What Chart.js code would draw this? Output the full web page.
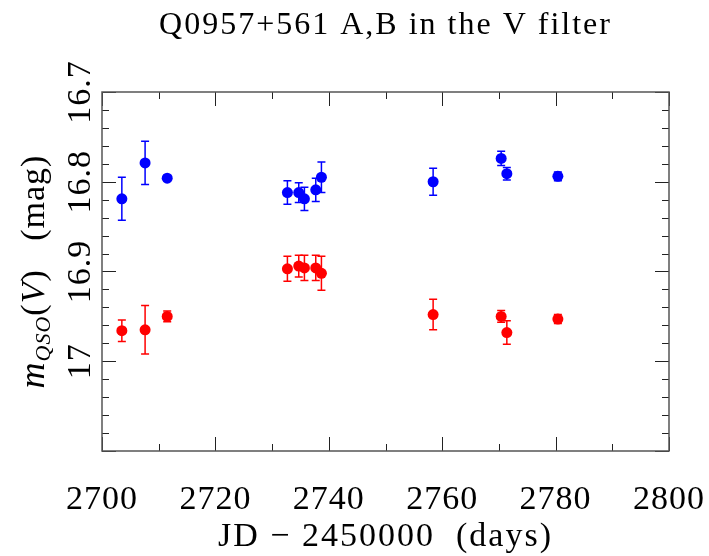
<!DOCTYPE html>
<html lang="en">
<head>
<meta charset="UTF-8">
<title>Q0957+561 A,B in the V filter</title>
<script src="https://cdn.jsdelivr.net/npm/chart.js"></script>
<style>
  body { margin: 0; background: #fff; }
  #wrap { width: 709px; height: 556px; }
</style>
</head>
<body>
<div id="wrap"><canvas id="lcChart" width="709" height="556"></canvas></div>
<script>
// Observation epochs (JD - 2450000)
const jd = [2703.5, 2707.6, 2711.5, 2732.7, 2734.7, 2735.7, 2737.7, 2738.7, 2758.4, 2770.4, 2771.4, 2780.4];

// Image A (blue) magnitudes and errors
const magA = [16.819, 16.779, 16.796, 16.812, 16.812, 16.819, 16.809, 16.795, 16.800, 16.774, 16.791, 16.794];
const errA = [0.024, 0.024, 0.003, 0.013, 0.011, 0.013, 0.013, 0.017, 0.015, 0.008, 0.007, 0.005];

// Image B (red) magnitudes and errors
const magB = [16.966, 16.965, 16.950, 16.897, 16.894, 16.896, 16.896, 16.902, 16.948, 16.950, 16.968, 16.953];
const errB = [0.012, 0.027, 0.006, 0.014, 0.012, 0.014, 0.014, 0.019, 0.017, 0.0065, 0.013, 0.005];

// axis tick labels
const xTickLabels = [2700, 2720, 2740, 2760, 2780, 2800];
const yTickLabels = ['16.7', '16.8', '16.9', '17'];

const FONT = '"Liberation Serif", "Times New Roman", serif';

function toPoints(xs, ys, es) {
  return xs.map((x, i) => ({ x: x, y: ys[i], err: es[i] }));
}

// draw the error bars under the points
const errorBars = {
  id: 'errorBars',
  beforeDatasetsDraw(chart) {
    const ctx = chart.ctx;
    const xs = chart.scales.x, ys = chart.scales.y;
    chart.data.datasets.forEach(ds => {
      ctx.save();
      ctx.strokeStyle = ds.borderColor;
      ctx.lineWidth = 1.5;
      ds.data.forEach(p => {
        const px = xs.getPixelForValue(p.x);
        const top = ys.getPixelForValue(p.y - p.err);
        const bot = ys.getPixelForValue(p.y + p.err);
        ctx.beginPath();
        ctx.moveTo(px, top); ctx.lineTo(px, bot);
        ctx.moveTo(px - 4, top); ctx.lineTo(px + 4, top);
        ctx.moveTo(px - 4, bot); ctx.lineTo(px + 4, bot);
        ctx.stroke();
      });
      ctx.restore();
    });
  }
};

// box, inward ticks on all four sides, labels and titles
const frame = {
  id: 'frame',
  afterDatasetsDraw(chart) {
    const ctx = chart.ctx;
    const a = chart.chartArea;
    const xs = chart.scales.x, ys = chart.scales.y;
    ctx.save();
    ctx.strokeStyle = '#222';
    ctx.lineWidth = 1;
    ctx.beginPath();
    for (let v = 2700; v <= 2800; v += 10) {
      const px = Math.round(xs.getPixelForValue(v)) + 0.5;
      const len = (v % 20 === 0) ? 14 : 7;
      ctx.moveTo(px, a.bottom); ctx.lineTo(px, a.bottom - len);
      ctx.moveTo(px, a.top); ctx.lineTo(px, a.top + len);
    }
    for (let k = 0; k <= 20; k++) {
      const py = Math.round(ys.getPixelForValue(16.7 + k * 0.02)) + 0.5;
      const len = (k % 5 === 0) ? 14 : 7;
      ctx.moveTo(a.left, py); ctx.lineTo(a.left + len, py);
      ctx.moveTo(a.right, py); ctx.lineTo(a.right - len, py);
    }
    ctx.stroke();
    ctx.strokeStyle = '#555';
    ctx.lineWidth = 1.5;
    ctx.strokeRect(a.left, a.top, a.right - a.left, a.bottom - a.top);
    ctx.restore();
  },
  afterDraw(chart) {
    const ctx = chart.ctx;
    const a = chart.chartArea;
    const xs = chart.scales.x, ys = chart.scales.y;
    const cx = (a.left + a.right) / 2;
    const cy = (a.top + a.bottom) / 2;
    ctx.save();
    ctx.fillStyle = '#000';
    ctx.textAlign = 'center';
    ctx.textBaseline = 'alphabetic';

    // title
    ctx.font = '32px ' + FONT;
    ctx.letterSpacing = '2px';
    ctx.fillText('Q0957+561 A,B in the V filter', cx, 34);

    // x tick labels
    ctx.font = '34px ' + FONT;
    ctx.letterSpacing = '1px';
    xTickLabels.forEach(v => {
      ctx.fillText(String(v), xs.getPixelForValue(v), 509);
    });

    // x title
    ctx.letterSpacing = '2px';
    ctx.fillText('JD \u2212 2450000  (days)', cx, 546);

    // y tick labels, rotated
    ctx.letterSpacing = '1px';
    yTickLabels.forEach(t => {
      ctx.save();
      ctx.translate(90, ys.getPixelForValue(parseFloat(t)));
      ctx.rotate(-Math.PI / 2);
      ctx.fillText(t, 0, 0);
      ctx.restore();
    });

    // y title: m_QSO(V)  (mag)
    ctx.save();
    ctx.translate(44, cy);
    ctx.rotate(-Math.PI / 2);
    ctx.textAlign = 'left';
    ctx.letterSpacing = '1px';
    const parts = [
      { t: 'm', f: 'italic 36px ' + FONT, dy: 0 },
      { t: 'QSO', f: 'italic 22px ' + FONT, dy: 6 },
      { t: '(', f: '34px ' + FONT, dy: 0 },
      { t: 'V', f: 'italic 34px ' + FONT, dy: 0 },
      { t: ')', f: '34px ' + FONT, dy: 0 },
      { t: '   (mag)', f: '34px ' + FONT, dy: 0 }
    ];
    let total = 0;
    parts.forEach(p => { ctx.font = p.f; total += ctx.measureText(p.t).width; });
    let x = -total / 2;
    parts.forEach(p => {
      ctx.font = p.f;
      ctx.fillText(p.t, x, p.dy);
      x += ctx.measureText(p.t).width;
    });
    ctx.restore();
    ctx.restore();
  }
};

new Chart(document.getElementById('lcChart').getContext('2d'), {
  type: 'scatter',
  data: {
    datasets: [
      {
        label: 'A',
        data: toPoints(jd, magA, errA),
        backgroundColor: '#0000ff',
        borderColor: '#0000ff',
        pointRadius: 5.5,
        pointBorderWidth: 0
      },
      {
        label: 'B',
        data: toPoints(jd, magB, errB),
        backgroundColor: '#ff0000',
        borderColor: '#ff0000',
        pointRadius: 5.5,
        pointBorderWidth: 0
      }
    ]
  },
  options: {
    responsive: false,
    animation: false,
    layout: { padding: { left: 102, right: 40, top: 92, bottom: 105 } },
    plugins: {
      legend: { display: false },
      tooltip: { enabled: false }
    },
    scales: {
      x: { type: 'linear', min: 2700, max: 2800, display: false },
      y: { type: 'linear', min: 16.7, max: 17.1, reverse: true, display: false }
    }
  },
  plugins: [errorBars, frame]
});
</script>
</body>
</html>
